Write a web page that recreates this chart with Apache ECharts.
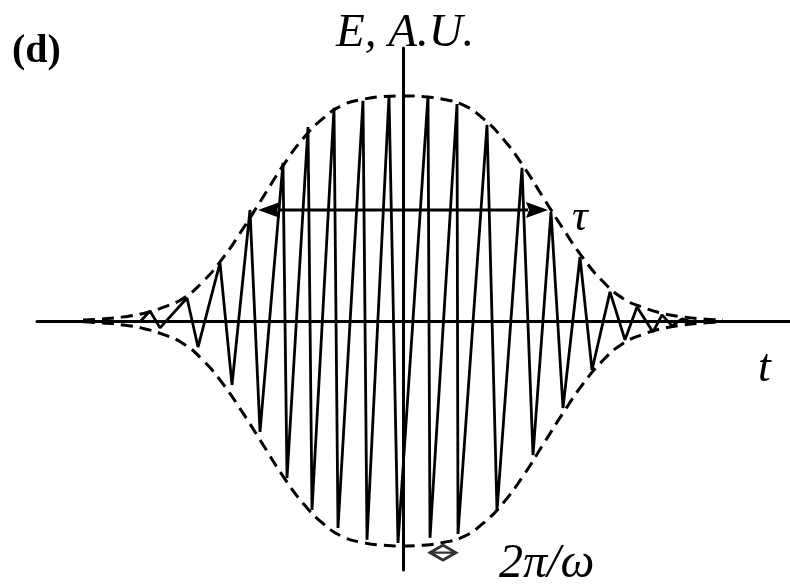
<!DOCTYPE html>
<html>
<head>
<meta charset="utf-8">
<script src="https://cdn.jsdelivr.net/npm/echarts@6/dist/echarts.min.js"></script>
<style>
  html, body { margin: 0; padding: 0; background: #fff; }
  #chart { width: 790px; height: 584px; }
</style>
</head>
<body>
<div id="chart"></div>
<script>
// Pulse envelope E(t) sampled along the time axis (t in arbitrary units, E normalised to peak)
const envT = [-3.2, -3.0, -2.8, -2.6, -2.4, -2.2, -2.0, -1.8, -1.6, -1.4, -1.2, -1.0, -0.8, -0.6, -0.4, -0.2, 0,
              0.2, 0.4, 0.6, 0.8, 1.0, 1.2, 1.4, 1.6, 1.8, 2.0, 2.2, 2.4, 2.6, 2.8, 3.0, 3.2];
const envE = [0.004, 0.009, 0.018, 0.033, 0.06, 0.10, 0.175, 0.28, 0.41, 0.55, 0.69, 0.81, 0.90, 0.96, 0.985, 0.997, 1.0,
              0.997, 0.985, 0.96, 0.90, 0.81, 0.69, 0.55, 0.41, 0.28, 0.175, 0.10, 0.06, 0.033, 0.018, 0.009, 0.004];

// Field oscillation: successive extrema of the carrier wave
const oscT = [-2.63, -2.53, -2.43, -2.16, -2.05, -1.83, -1.71, -1.53, -1.43, -1.20, -1.16, -0.95, -0.91,
              -0.69, -0.65, -0.40, -0.36, -0.14, -0.05, 0.25, 0.27, 0.54, 0.55, 0.84, 0.94, 1.19, 1.30,
              1.48, 1.60, 1.77, 1.89, 2.07, 2.22, 2.34, 2.50, 2.59, 2.69, 2.79, 2.89];
const oscE = [-0.004, 0.044, -0.031, 0.102, -0.116, 0.258, -0.284, 0.493, -0.493, 0.702, -0.698, 0.862, -0.84,
              0.947, -0.92, 0.978, -0.973, 1.0, -0.987, 1.0, -0.964, 0.964, -0.947, 0.871, -0.844, 0.68, -0.596,
              0.484, -0.387, 0.284, -0.218, 0.129, -0.084, 0.062, -0.049, 0.027, -0.022, 0.009, -0.004];

// Pulse duration tau (full width at half maximum) and period marker position
const tauSpan = [-1.45, 1.45];
const tauLevel = 0.493;
const periodMark = [0.40, -1.03];

const labels = {
  panel: '(d)',
  yName: 'E, A.U.',
  xName: 't',
  tau: 'τ',
  period: '2π/ω'
};

const upper = envT.map((t, i) => [t, envE[i]]);
const lower = envT.map((t, i) => [t, -envE[i]]);
const wave = oscT.map((t, i) => [t, oscE[i]]);

const chart = echarts.init(document.getElementById('chart'), null, { renderer: 'canvas' });

const dashStyle = { color: '#000', width: 3, type: [12, 7] };
const serif = '"Liberation Serif", "Times New Roman", serif';

chart.setOption({
  animation: false,
  backgroundColor: '#fff',
  grid: { left: 37, right: 0, top: 48, bottom: 14 },
  xAxis: {
    type: 'value', min: -3.66, max: 3.87,
    axisLine: { show: true, onZero: true, lineStyle: { color: '#000', width: 3 } },
    axisTick: { show: false }, axisLabel: { show: false }, splitLine: { show: false }
  },
  yAxis: {
    type: 'value', min: -1.107, max: 1.213,
    axisLine: { show: true, onZero: true, lineStyle: { color: '#000', width: 3 } },
    axisTick: { show: false }, axisLabel: { show: false }, splitLine: { show: false }
  },
  series: [
    {
      type: 'line', data: wave, symbol: 'none', smooth: false,
      lineStyle: { color: '#000', width: 2.8 }, z: 3
    },
    {
      type: 'line', data: upper, symbol: 'none', smooth: true,
      lineStyle: dashStyle, z: 4
    },
    {
      type: 'line', data: lower, symbol: 'none', smooth: true,
      lineStyle: dashStyle, z: 4
    },
    {
      // double-headed arrow marking tau
      type: 'custom', z: 5,
      data: [[tauSpan[0], tauLevel, tauSpan[1]]],
      renderItem: function (params, api) {
        const p1 = api.coord([api.value(0), api.value(1)]);
        const p2 = api.coord([api.value(2), api.value(1)]);
        const hl = 22, hw = 8;
        return {
          type: 'group',
          children: [
            { type: 'line', shape: { x1: p1[0] + hl - 2, y1: p1[1], x2: p2[0] - hl + 2, y2: p2[1] },
              style: { stroke: '#000', lineWidth: 3 } },
            { type: 'polygon', shape: { points: [[p1[0], p1[1]], [p1[0] + hl, p1[1] - hw], [p1[0] + hl - 3, p1[1]], [p1[0] + hl, p1[1] + hw]] },
              style: { fill: '#000' } },
            { type: 'polygon', shape: { points: [[p2[0], p2[1]], [p2[0] - hl, p2[1] - hw], [p2[0] - hl + 3, p2[1]], [p2[0] - hl, p2[1] + hw]] },
              style: { fill: '#000' } }
          ]
        };
      }
    },
    {
      // small period marker below the pulse
      type: 'scatter', z: 5,
      data: [periodMark],
      symbol: 'path://M0,8L14,0L28,8L14,16ZM0,8L28,8',
      symbolSize: [26, 15],
      itemStyle: { color: '#fff', borderColor: '#000', borderWidth: 3 }
    }
  ],
  graphic: [
    { type: 'text', left: 12, top: 32, style: { text: labels.panel, font: 'bold 40px ' + serif, fill: '#000' } },
    { type: 'text', left: 336, top: 10, style: { text: labels.yName, font: 'italic 47px ' + serif, fill: '#000' } },
    { type: 'text', left: 572, top: 196, style: { text: labels.tau, font: 'italic 44px ' + serif, fill: '#000' } },
    { type: 'text', left: 758, top: 346, style: { text: labels.xName, font: 'italic 46px ' + serif, fill: '#000' } },
    { type: 'text', left: 499, top: 540, style: { text: labels.period, font: 'italic 48px ' + serif, fill: '#000' } }
  ]
});
</script>
</body>
</html>
